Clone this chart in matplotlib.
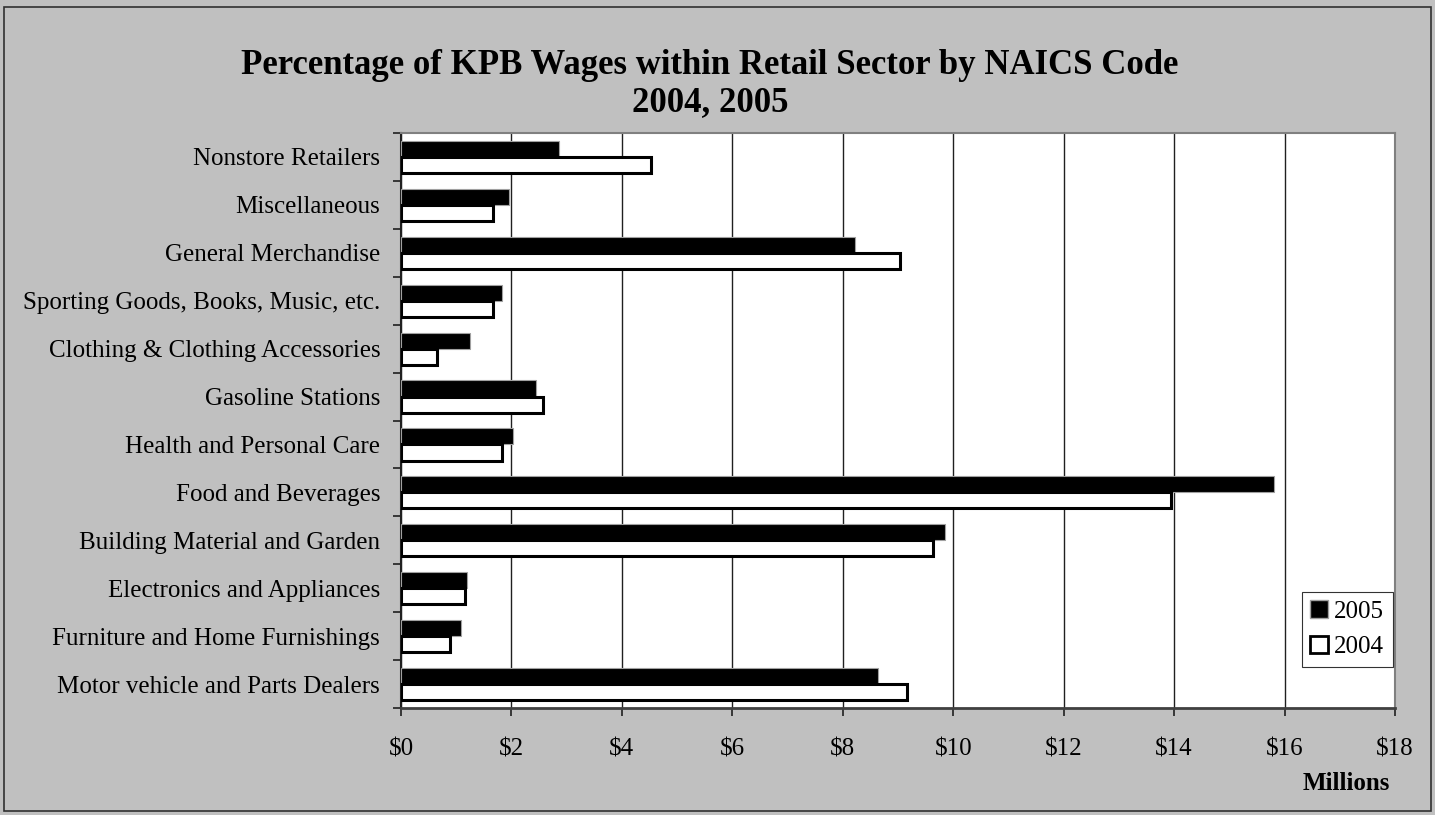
import matplotlib
matplotlib.use("Agg")
import matplotlib.pyplot as plt
from matplotlib.patches import Patch, Rectangle
import numpy as np

plt.rcParams['font.family'] = ['Liberation Serif', 'DejaVu Serif']

categories = [
    "Motor vehicle and Parts Dealers",
    "Furniture and Home Furnishings",
    "Electronics and Appliances",
    "Building Material and Garden",
    "Food and Beverages",
    "Health and Personal Care",
    "Gasoline Stations",
    "Clothing & Clothing Accessories",
    "Sporting Goods, Books, Music, etc.",
    "General Merchandise",
    "Miscellaneous",
    "Nonstore Retailers",
]
wages_2005 = [8.64, 1.09, 1.20, 9.85, 15.81, 2.03, 2.45, 1.25, 1.82, 8.23, 1.96, 2.87]
wages_2004 = [9.16, 0.89, 1.15, 9.64, 13.94, 1.83, 2.57, 0.65, 1.66, 9.03, 1.66, 4.53]
xticks = [0, 2, 4, 6, 8, 10, 12, 14, 16, 18]
xtick_labels = ["$0", "$2", "$4", "$6", "$8", "$10", "$12", "$14", "$16", "$18"]

W, H = 1435, 815
fig = plt.figure(figsize=(W / 100, H / 100), dpi=100)
fig.patch.set_facecolor("#C0C0C0")
fig.patches.append(Rectangle((4 / W, 4 / H), 1 - 8 / W, 1 - 11 / H, transform=fig.transFigure,
                             fill=False, edgecolor="#303030", linewidth=1.2))

left, right, top, bottom = 401, 1395, 133, 708
ax = fig.add_axes([left / W, 1 - bottom / H, (right - left) / W, (bottom - top) / H])
ax.set_facecolor("white")

y = np.arange(len(categories))
h = 0.335
ax.barh(y + h / 2, wages_2005, height=h, color="black", edgecolor="#A0A0A0", linewidth=0.8, zorder=3)
ax.barh(y - h / 2, wages_2004, height=h, color="white", edgecolor="black", linewidth=2.2, zorder=3)

ax.set_xlim(0, 18)
ax.set_ylim(-0.5, len(categories) - 0.5)
ax.set_xticks(xticks)
ax.set_xticklabels(xtick_labels, fontsize=18)
ax.xaxis.grid(True, color="#202020", linewidth=1.0, zorder=0)
ax.set_axisbelow(True)

ax.set_yticks(y)
ax.set_yticklabels(categories, fontsize=18)
ax.set_yticks(np.arange(-0.5, len(categories), 1), minor=True)
ax.tick_params(axis="y", which="major", length=0, pad=15)
ax.tick_params(axis="y", which="minor", length=5.8, width=1.2, color="#202020", direction="out")
ax.tick_params(axis="x", which="major", length=5.8, width=1.2, color="#202020", direction="out", pad=16)

for s in ["top", "right"]:
    ax.spines[s].set_color("#808080")
    ax.spines[s].set_linewidth(1.5)
ax.spines["left"].set_color("#202020")
ax.spines["left"].set_linewidth(1.5)
ax.spines["bottom"].set_color("#404040")
ax.spines["bottom"].set_linewidth(2.0)

fig.text(710 / W, 1 - 74 / H, "Percentage of KPB Wages within Retail Sector by NAICS Code",
         ha="center", va="baseline", fontsize=25, fontweight="bold")
fig.text(710 / W, 1 - 111 / H, "2004, 2005", ha="center", va="baseline", fontsize=25, fontweight="bold")
fig.text(1390 / W, 1 - 783 / H, "Millions", ha="right", va="center", fontsize=18, fontweight="bold")

handles = [Patch(facecolor="black", edgecolor="#A0A0A0"),
           Patch(facecolor="white", edgecolor="black", linewidth=2)]
leg = ax.legend(handles, ["2005", "2004"], loc="lower right",
                bbox_to_anchor=((1393 - left) / (right - left), (bottom - 667) / (bottom - top)),
                fontsize=18, frameon=True, fancybox=False, handlelength=0.72, handleheight=0.72,
                handletextpad=0.24, borderpad=0.35, labelspacing=0.5, borderaxespad=0)
leg.get_frame().set_edgecolor("black")
leg.get_frame().set_linewidth(0.8)

fig.savefig("out.png", dpi=100, facecolor=fig.get_facecolor())
